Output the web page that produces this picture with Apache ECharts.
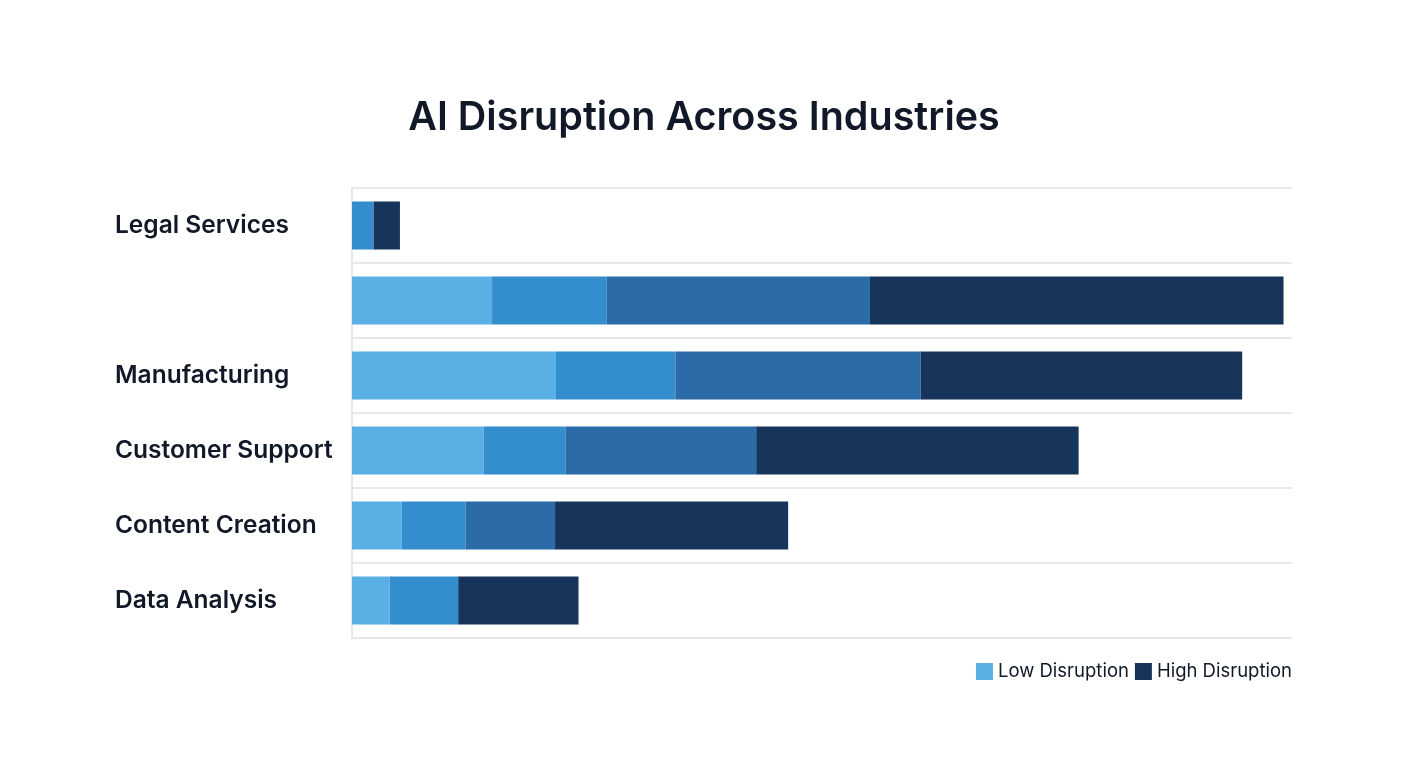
<!DOCTYPE html>
<html>
<head>
<meta charset="utf-8">
<script src="https://cdn.jsdelivr.net/npm/echarts@6/dist/echarts.min.js"></script>
<style>
  html, body { margin: 0; padding: 0; background: #ffffff; }
  #chart { width: 1408px; height: 768px; }
</style>
</head>
<body>
<div id="chart"></div>
<script>
// Data
const industries = ['Legal Services', '', 'Manufacturing', 'Customer Support', 'Content Creation', 'Data Analysis'];
const lowValues = [0, 14.9, 21.7, 14.0, 5.3, 4.0];
const moderateValues = [2.3, 12.2, 12.7, 8.7, 6.8, 7.3];
const significantValues = [0, 28.0, 26.1, 20.3, 9.5, 0];
const highValues = [2.8, 44.0, 34.2, 34.3, 24.8, 12.8];

const colors = {
  low: '#5aafe5',
  moderate: '#348dcd',
  significant: '#2a6ba8',
  high: '#17355a',
  text: '#111827',
  grid: '#e6e8eb'
};

const chart = echarts.init(document.getElementById('chart'));

const makeSeries = (name, data, color) => ({
  name: name,
  type: 'bar',
  stack: 'total',
  data: data,
  barWidth: 48,
  itemStyle: { color: color },
  emphasis: { disabled: true }
});

const option = {
  backgroundColor: '#ffffff',
  animation: false,
  title: {
    text: 'AI Disruption Across Industries',
    left: 699,
    top: 93,
    textAlign: 'center',
    textStyle: {
      fontFamily: 'Inter',
      fontSize: 39.5,
      fontWeight: 600,
      color: colors.text
    }
  },
  legend: {
    data: ['Low Disruption', 'High Disruption'],
    right: 111,
    top: 657,
    icon: 'rect',
    itemWidth: 17,
    itemHeight: 17,
    itemGap: 6,
    textStyle: {
      fontFamily: 'Inter',
      fontSize: 18.5,
      color: colors.text
    }
  },
  grid: {
    left: 352,
    right: 116,
    top: 188,
    bottom: 130
  },
  xAxis: {
    type: 'value',
    min: 0,
    max: 100,
    show: false
  },
  yAxis: {
    type: 'category',
    data: industries,
    inverse: true,
    axisTick: { show: false },
    axisLine: { show: true, lineStyle: { color: colors.grid, width: 2 } },
    splitLine: { show: true, lineStyle: { color: colors.grid, width: 2 } },
    axisLabel: {
      align: 'left',
      margin: 237,
      fontFamily: 'Inter',
      fontSize: 24.5,
      fontWeight: 600,
      color: colors.text
    }
  },
  series: [
    makeSeries('Low Disruption', lowValues, colors.low),
    makeSeries('Moderate Disruption', moderateValues, colors.moderate),
    makeSeries('Significant Disruption', significantValues, colors.significant),
    makeSeries('High Disruption', highValues, colors.high)
  ]
};

chart.setOption(option);
</script>
</body>
</html>
